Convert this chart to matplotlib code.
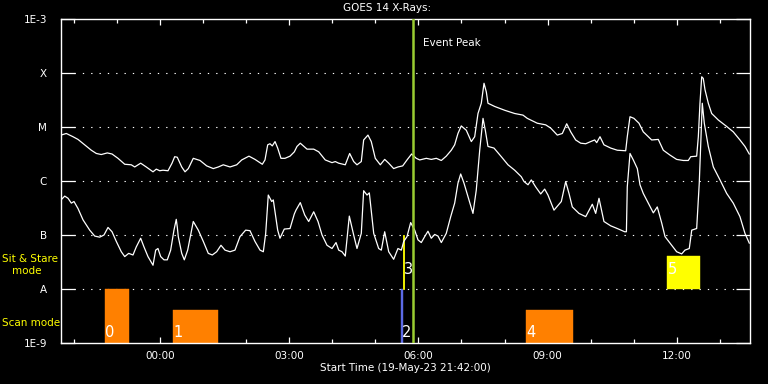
import matplotlib
matplotlib.use("Agg")
import numpy as np
import matplotlib.pyplot as plt
import matplotlib.dates as mdates
import matplotlib.transforms as mtransforms
from datetime import datetime, timedelta

plt.rcParams['font.family'] = ['DejaVu Sans']

# ---------------- data ----------------
start = datetime(2023, 5, 19, 21, 42, 0)
duration_min = 960

# GOES long channel (1-8 A): minutes since start, log10 flux (W/m^2)
long_t = [0, 7.4, 16.7, 23.7, 33.0, 42.2, 49.2, 56.1, 64.5, 71.1, 79.4, 88.8, 97.9, 102.7,
          111.0, 118.8, 128.2, 132.8, 137.5, 142.1, 149.1, 154.7, 158.4, 162.0, 168.2, 172.8,
          177.4, 184.3, 193.7, 203.0, 212.2, 219.2, 226.1, 235.5, 244.8, 251.8, 261.9, 270.3,
          280.5, 284.2, 288.0, 291.2, 294.4, 298.2, 301.9, 306.5, 312.1, 319.1, 325.1, 328.8,
          333.4, 342.8, 352.1, 359.1, 368.2, 377.6, 382.2, 386.9, 396.1, 402.2, 407.8, 412.4,
          418.4, 421.7, 427.7, 432.3, 437.9, 444.9, 451.0, 456.6, 463.5, 469.5, 476.1, 482.1,
          488.5, 495.0, 499.8, 509.0, 516.0, 522.9, 529.9, 536.8, 543.8, 548.5, 553.1, 557.7,
          564.7, 571.7, 576.4, 581.0, 585.6, 589.4, 592.6, 594.9, 604.3, 618.2, 632.1, 643.7,
          649.7, 654.4, 663.6, 675.3, 682.3, 691.5, 698.5, 704.6, 710.2, 717.1, 724.1, 731.1,
          738.0, 743.6, 746.4, 751.0, 756.5, 765.9, 775.1, 786.8, 789.0, 792.8, 798.3, 805.3,
          811.3, 813.7, 823.0, 832.2, 839.2, 848.5, 857.8, 867.1, 874.0, 877.4, 885.7, 888.0,
          890.3, 892.7, 894.9, 897.3, 901.9, 906.6, 915.8, 927.5, 936.7, 946.0, 953.0, 959.0]
long_log = [-5.15, -5.12, -5.18, -5.23, -5.33, -5.43, -5.49, -5.51, -5.48, -5.50, -5.58, -5.69,
            -5.70, -5.74, -5.67, -5.74, -5.83, -5.78, -5.81, -5.80, -5.81, -5.67, -5.55, -5.56,
            -5.74, -5.83, -5.77, -5.58, -5.62, -5.72, -5.77, -5.74, -5.70, -5.74, -5.70, -5.61,
            -5.54, -5.60, -5.69, -5.61, -5.33, -5.31, -5.35, -5.27, -5.39, -5.58, -5.58, -5.54,
            -5.46, -5.36, -5.30, -5.41, -5.41, -5.46, -5.61, -5.66, -5.64, -5.67, -5.70, -5.49,
            -5.64, -5.70, -5.64, -5.24, -5.15, -5.27, -5.58, -5.70, -5.60, -5.67, -5.77, -5.74,
            -5.72, -5.61, -5.50, -5.58, -5.61, -5.58, -5.60, -5.58, -5.62, -5.54, -5.43, -5.33,
            -5.12, -4.98, -5.06, -5.27, -5.18, -4.75, -4.56, -4.19, -4.35, -4.56, -4.62, -4.69,
            -4.75, -4.78, -4.84, -4.87, -4.93, -4.96, -5.02, -5.15, -5.12, -4.94, -5.09, -5.24,
            -5.30, -5.31, -5.27, -5.24, -5.29, -5.18, -5.33, -5.39, -5.43, -5.44, -5.18, -4.81,
            -4.84, -4.93, -5.09, -5.12, -5.24, -5.23, -5.43, -5.52, -5.60, -5.62, -5.62, -5.55,
            -5.54, -5.18, -4.56, -4.07, -4.10, -4.31, -4.56, -4.75, -4.87, -4.99, -5.09, -5.24,
            -5.36, -5.50]

# GOES short channel (0.5-4 A)
short_t = [0, 5.2, 9.8, 14.4, 18.1, 23.7, 30.7, 40.0, 47.0, 53.9, 59.9, 65.5, 71.1, 77.1,
           84.0, 88.8, 94.3, 100.3, 104.9, 111.0, 115.6, 121.2, 128.2, 131.9, 135.1, 138.9,
           143.5, 148.1, 152.8, 157.4, 160.6, 162.0, 163.4, 168.2, 171.8, 176.5, 184.3, 191.3,
           198.3, 205.2, 210.8, 216.9, 222.9, 228.5, 235.5, 242.4, 249.4, 257.3, 263.3, 270.3,
           277.3, 281.9, 285.2, 288.8, 293.6, 295.8, 298.2, 301.9, 305.1, 311.1, 319.1, 325.1,
           327.4, 333.4, 339.6, 345.1, 352.1, 358.1, 363.7, 370.6, 377.6, 383.2, 386.9, 391.5,
           396.1, 401.7, 407.8, 412.4, 418.4, 421.7, 426.4, 429.6, 435.7, 442.6, 446.3, 451.0,
           456.6, 463.5, 469.5, 474.2, 477.5, 482.1, 487.2, 492.8, 497.4, 502.0, 506.7, 511.3,
           515.9, 520.7, 525.3, 529.9, 536.8, 543.0, 548.5, 553.1, 556.9, 561.5, 567.1, 574.0,
           578.6, 583.4, 588.0, 591.2, 594.9, 603.3, 613.5, 622.8, 632.1, 641.3, 645.1, 650.7,
           655.3, 661.4, 668.4, 673.9, 678.5, 686.9, 697.1, 703.2, 707.8, 712.4, 721.7, 731.1,
           737.1, 740.3, 745.0, 749.6, 756.5, 765.9, 775.1, 785.4, 787.8, 789.0, 792.8, 797.4,
           803.0, 806.7, 811.3, 818.3, 825.3, 830.8, 837.0, 841.6, 850.9, 857.8, 864.8, 869.4,
           875.4, 878.8, 885.7, 889.3, 891.7, 893.5, 896.3, 901.9, 908.9, 918.2, 927.5, 936.7,
           946.0, 953.0, 959.0]
short_log = [-6.35, -6.28, -6.32, -6.41, -6.38, -6.51, -6.72, -6.91, -7.02, -7.04, -7.00, -6.86,
             -6.94, -7.12, -7.31, -7.40, -7.34, -7.37, -7.22, -7.06, -7.22, -7.40, -7.56, -7.28,
             -7.25, -7.40, -7.46, -7.46, -7.28, -6.91, -6.71, -6.85, -7.03, -7.34, -7.46, -7.28,
             -6.75, -6.91, -7.12, -7.34, -7.37, -7.31, -7.19, -7.28, -7.31, -7.28, -7.03, -6.91,
             -6.92, -7.12, -7.28, -7.31, -6.97, -6.26, -6.38, -6.35, -6.57, -6.91, -7.06, -6.89,
             -6.88, -6.61, -6.54, -6.40, -6.63, -6.75, -6.57, -6.75, -7.00, -7.19, -7.25, -7.14,
             -7.28, -7.31, -7.39, -6.65, -7.00, -7.25, -6.97, -6.18, -6.26, -6.22, -6.97, -7.25,
             -7.28, -6.94, -7.31, -7.45, -7.25, -7.28, -7.12, -7.03, -6.77, -6.91, -7.09, -7.14,
             -7.03, -6.93, -7.06, -6.99, -7.02, -7.14, -6.97, -6.66, -6.41, -6.04, -5.87, -6.04,
             -6.29, -6.60, -6.17, -5.43, -4.84, -5.06, -5.36, -5.39, -5.55, -5.70, -5.80, -5.92,
             -6.01, -6.07, -5.98, -6.11, -6.24, -6.15, -6.26, -6.54, -6.38, -6.01, -6.23, -6.48,
             -6.60, -6.66, -6.51, -6.43, -6.60, -6.32, -6.75, -6.83, -6.88, -6.94, -6.94, -6.11,
             -5.49, -5.61, -5.77, -6.07, -6.23, -6.41, -6.59, -6.48, -6.78, -7.03, -7.19, -7.31,
             -7.35, -7.28, -7.25, -6.91, -6.88, -6.04, -5.18, -4.56, -4.93, -5.36, -5.74, -5.98,
             -6.23, -6.41, -6.66, -6.97, -7.15]

# Events (minutes since start)
event_ids = ['0', '1', '2', '3', '4', '5']
event_start = [61, 156, 473.7, 476.9, 648, 844]
event_end = [95, 219, 476.9, 478.3, 713, 890]
event_mode = ['scan', 'scan', 'scan', 'sit', 'scan', 'sit']
event_top = [1e-8, 4.1e-9, 1e-8, 1e-7, 4.1e-9, 4.1e-8]
event_color = ['#ff8000', '#ff8000', '#5c6ae6', '#ffff00', '#ff8000', '#ffff00']
peak_min = 490

level_values = [1e-9, 1e-8, 1e-7, 1e-6, 1e-5, 1e-4, 1e-3]
level_labels = ['1E-9', 'A', 'B', 'C', 'M', 'X', '1E-3']

# ---------------- figure ----------------
W, H = 768, 384
fig = plt.figure(figsize=(W / 100, H / 100), dpi=100, facecolor='black')
x0, x1, ytop, ybot = 61, 750, 19, 343
ax = fig.add_axes([x0 / W, 1 - ybot / H, (x1 - x0) / W, (ybot - ytop) / H])
ax.set_facecolor('black')

to_num = lambda m: mdates.date2num(start + timedelta(minutes=float(m)))
lt = [to_num(m) for m in long_t]
st = [to_num(m) for m in short_t]

ax.set_yscale('log')
ax.set_ylim(1e-9, 1e-3)
ax.set_xlim(to_num(0), to_num(duration_min))

# dotted class lines
for lv in level_values[1:-1]:
    ax.axhline(lv, xmin=13 / 689, xmax=675 / 689, color='white', lw=0.8,
               linestyle=(0, (1.2, 6.3)), zorder=1)

# event bars
for eid, s, e, mode, top, c in zip(event_ids, event_start, event_end, event_mode,
                                    event_top, event_color):
    base = 1e-9 if mode == 'scan' else 1e-8
    narrow = (e - s) < 2
    ax.bar(to_num(s), top - base, width=to_num(e) - to_num(s), bottom=base,
           align='edge', color=c, edgecolor=c, linewidth=0.6 if narrow else 0.3,
           zorder=2)
    yoff = 2 if mode == 'scan' else 9
    ax.annotate(eid, xy=(to_num(s), base), xytext=(0.5, yoff), textcoords='offset points',
                color='white', fontsize=10.5, ha='left', va='bottom', zorder=5)

# curves
ax.plot(lt, 10 ** np.array(long_log), color='white', lw=0.9, zorder=3)
ax.plot(st, 10 ** np.array(short_log), color='white', lw=0.9, zorder=3)

# event peak line
ax.axvline(to_num(peak_min), color='#9acd32', lw=1.8, zorder=4)
trans = mtransforms.blended_transform_factory(ax.transData, ax.transAxes)
ax.annotate('Event Peak', xy=(to_num(peak_min), (ybot - 42.5) / (ybot - ytop)),
            xycoords=trans, xytext=(7.5, 0), textcoords='offset points',
            color='white', fontsize=7.5, va='center', ha='left')

# axes styling
for sp in ax.spines.values():
    sp.set_color('white')
    sp.set_linewidth(1.0)

ax.set_yticks(level_values)
ax.set_yticklabels(level_labels)
ax.yaxis.set_minor_locator(matplotlib.ticker.NullLocator())
ax.tick_params(axis='y', which='major', direction='in', length=10, width=0.9,
               color='white', labelcolor='white', left=True, right=True, pad=10,
               labelsize=7.5)

ax.xaxis.set_major_locator(mdates.HourLocator(byhour=range(0, 24, 3)))
ax.xaxis.set_minor_locator(mdates.HourLocator())
ax.xaxis.set_major_formatter(mdates.DateFormatter('%H:%M'))
ax.tick_params(axis='x', which='major', direction='in', length=4.3, width=0.9,
               color='white', labelcolor='white', top=True, bottom=True, pad=6,
               labelsize=7.5)
ax.tick_params(axis='x', which='minor', direction='in', length=2.9, width=0.9,
               color='white', top=True, bottom=True)

# texts
fig.text(387 / W, 1 - 8 / H, 'GOES 14 X-Rays:', color='white', fontsize=7.5,
         ha='center', va='center')
fig.text((x0 + x1) / 2 / W, 1 - 368 / H, 'Start Time (19-May-23 21:42:00)',
         color='white', fontsize=7.5, ha='center', va='center')
fig.text(2 / W, 1 - 259 / H, 'Sit & Stare', color='yellow', fontsize=7.5,
         ha='left', va='center')
fig.text(12 / W, 1 - 271 / H, 'mode', color='yellow', fontsize=7.5,
         ha='left', va='center')
fig.text(2 / W, 1 - 323.5 / H, 'Scan mode', color='yellow', fontsize=7.5,
         ha='left', va='center')

fig.savefig('out.png', dpi=100, facecolor='black')
